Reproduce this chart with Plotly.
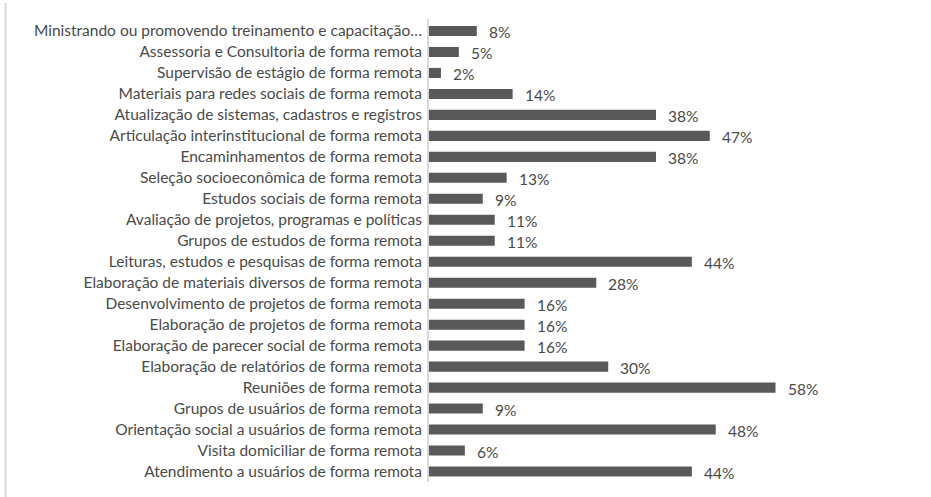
import plotly.graph_objects as go

categories = [
    "Ministrando ou promovendo treinamento e capacitação…",
    "Assessoria e Consultoria de forma remota",
    "Supervisão de estágio de forma remota",
    "Materiais para redes sociais de forma remota",
    "Atualização de sistemas, cadastros e registros",
    "Articulação interinstitucional de forma remota",
    "Encaminhamentos de forma remota",
    "Seleção socioeconômica de forma remota",
    "Estudos sociais de forma remota",
    "Avaliação de projetos, programas e políticas",
    "Grupos de estudos de forma remota",
    "Leituras, estudos e pesquisas de forma remota",
    "Elaboração de materiais diversos de forma remota",
    "Desenvolvimento de projetos de forma remota",
    "Elaboração de projetos de forma remota",
    "Elaboração de parecer social de forma remota",
    "Elaboração de relatórios de forma remota",
    "Reuniões de forma remota",
    "Grupos de usuários de forma remota",
    "Orientação social a usuários de forma remota",
    "Visita domiciliar de forma remota",
    "Atendimento a usuários de forma remota",
]
values = [8, 5, 2, 14, 38, 47, 38, 13, 9, 11, 11, 44, 28, 16, 16, 16, 30, 58, 9, 48, 6, 44]

BAR = "#595959"
TXT = "#4a4a4a"
FONT = "Lato"
FS = 15.5

fig = go.Figure(go.Bar(
    x=values, y=categories, orientation="h",
    marker=dict(color=BAR, line=dict(width=0)),
    width=0.48,
    hoverinfo="skip",
))

for c, v in zip(categories, values):
    fig.add_annotation(x=v, y=c, text=f"{v}%", showarrow=False,
                       xanchor="left", yanchor="middle", xshift=10, yshift=-1,
                       font=dict(family=FONT, size=FS, color=TXT))

W, H = 931, 497
L, R, T, B = 429, 131, 19, 15
pw = W - L - R
ph = H - T - B
fig.add_shape(type="line", xref="paper", yref="paper",
              x0=(5.5 - L) / pw, x1=(5.5 - L) / pw, y0=-B / ph, y1=1 + 16 / ph,
              line=dict(color="#d9d9d9", width=2))

fig.update_layout(
    width=W, height=H,
    margin=dict(l=L, r=R, t=T, b=B),
    paper_bgcolor="white", plot_bgcolor="white",
    showlegend=False,
    font=dict(family=FONT, size=FS, color=TXT),
    xaxis=dict(range=[0, 62.1], visible=False, fixedrange=True),
    yaxis=dict(autorange="reversed", showline=True, linecolor="#d9d9d9", linewidth=2,
               showgrid=False, zeroline=False, ticks="", ticklabelstandoff=2,
               tickfont=dict(family=FONT, size=FS, color=TXT), fixedrange=True),
)

fig.write_html("out.html", config={"displayModeBar": False},
               post_script="document.body.style.margin='0';")
